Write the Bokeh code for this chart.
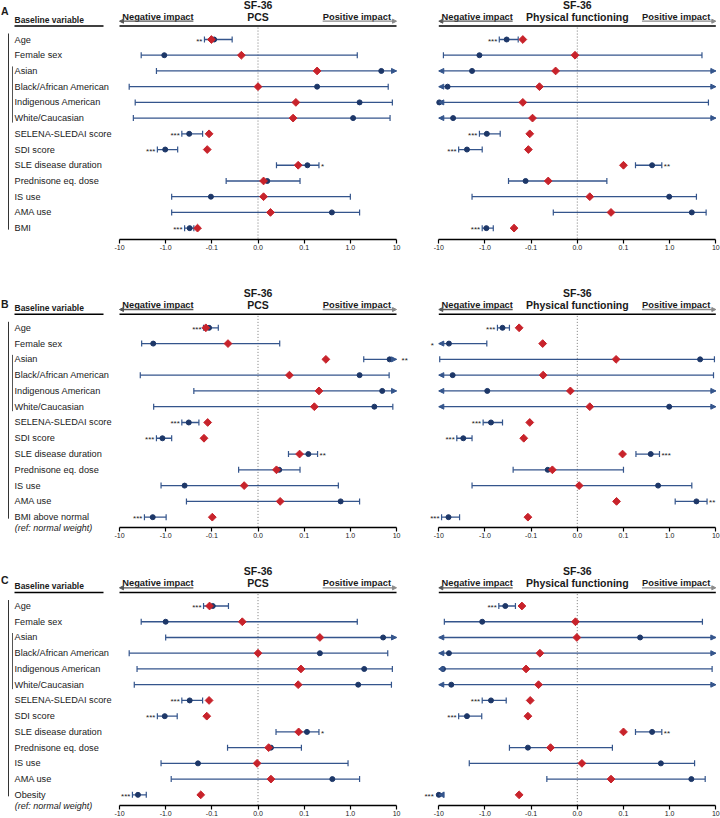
import numpy as np
from bokeh.plotting import figure
from bokeh.layouts import row, column
from bokeh.models import (ColumnDataSource, Range1d, FixedTicker, Arrow, NormalHead,
                          LabelSet, Label)
from bokeh.core.properties import value
from bokeh.embed import file_html
from bokeh.resources import INLINE

# ---------------- data (x in axis units: -3=-10, -2=-1.0, -1=-0.1, 0=0.0, 1=0.1, 2=1.0, 3=10;
#                  |value| > 3 means the CI runs off the axis -> arrow) ----------------
variables = ["Age", "Female sex", "Asian", "Black/African American", "Indigenous American",
             "White/Caucasian", "SELENA-SLEDAI score", "SDI score", "SLE disease duration",
             "Prednisone eq. dose", "IS use", "AMA use"]
weight_labels = ["BMI", "BMI above normal", "Obesity"]
weight_notes = ["", "(ref: normal weight)", "(ref: normal weight)"]
panel_letters = ["A", "B", "C"]
outcomes = ["PCS", "Physical functioning"]
tick_values = [-3, -2, -1, 0, 1, 2, 3]
tick_labels = ["-10", "-1.0", "-0.1", "0.0", "0.1", "1.0", "10"]

# Panel A
a_pcs_est = [-0.95, -2.03, 2.67, 1.28, 2.20, 2.06, -1.49, -2.01, 1.07, 0.20, -1.02, 1.60, -1.48]
a_pcs_lo = [-1.16, -2.53, -2.20, -2.79, -2.66, -2.70, -1.65, -2.18, 0.40, -0.69, -1.87, -1.87, -1.59]
a_pcs_hi = [-0.56, 2.15, 3.30, 2.82, 2.91, 2.86, -1.20, -1.74, 1.32, 0.91, 2.00, 2.20, -1.39]
a_pcs_adj = [-1.01, -0.36, 1.28, 0.00, 0.82, 0.76, -1.06, -1.10, 0.87, 0.12, 0.12, 0.27, -1.31]
a_pcs_sig = ["**", "", "", "", "", "", "***", "***", "*", "", "", "", "***"]

a_pf_est = [-1.53, -2.12, -2.28, -2.81, -2.99, -2.69, -1.96, -2.39, 1.62, -1.12, 1.99, 2.48, -1.97]
a_pf_lo = [-1.69, -2.90, -3.30, -3.30, -3.30, -3.30, -2.12, -2.57, 1.26, -1.49, -2.28, -0.52, -2.06]
a_pf_hi = [-1.28, 2.70, 3.30, 3.30, 2.84, 3.30, -1.67, -2.06, 1.83, 0.64, 2.58, 2.79, -1.82]
a_pf_adj = [-1.18, -0.05, -0.47, -0.82, -1.18, -0.97, -1.03, -1.06, 1.00, -0.63, 0.27, 0.73, -1.37]
a_pf_sig = ["***", "", "", "", "", "", "***", "***", "**", "", "", "", "***"]

# Panel B
b_pcs_est = [-1.06, -2.27, 2.85, 2.20, 2.69, 2.52, -1.50, -2.07, 1.09, 0.46, -1.59, 1.79, -2.28]
b_pcs_lo = [-1.18, -2.52, 2.29, -2.55, -1.39, -2.26, -1.65, -2.20, 0.66, -0.42, -2.10, -1.55, -2.46]
b_pcs_hi = [-0.86, 0.47, 3.30, 2.84, 3.30, 2.92, -1.28, -1.87, 1.29, 0.91, 1.74, 2.20, -1.99]
b_pcs_adj = [-1.13, -0.65, 1.47, 0.68, 1.32, 1.22, -1.09, -1.17, 0.90, 0.40, -0.30, 0.48, -0.99]
b_pcs_sig = ["***", "", "**", "", "", "", "***", "***", "**", "", "", "", "***"]

b_pf_est = [-1.62, -2.78, 2.66, -2.70, -1.95, 1.99, -1.87, -2.47, 1.59, -0.64, 1.75, 2.58, -2.79]
b_pf_lo = [-1.73, -3.30, -2.98, -3.30, -3.30, -3.30, -2.04, -2.61, 1.27, -1.39, -2.28, 2.12, -2.94]
b_pf_hi = [-1.47, -1.96, 2.97, 2.95, 3.30, 3.30, -1.62, -2.28, 1.78, 1.00, 2.48, 2.81, -2.55]
b_pf_adj = [-1.26, -0.75, 0.84, -0.74, -0.15, 0.27, -1.03, -1.16, 0.98, -0.54, 0.04, 0.85, -1.07]
b_pf_sig = ["***", "*", "", "", "", "", "***", "***", "***", "", "", "**", "***"]

# Panel C
c_pcs_est = [-0.98, -2.00, 2.71, 1.34, 2.30, 2.17, -1.48, -2.02, 1.06, 0.28, -1.30, 1.61, -2.60]
c_pcs_lo = [-1.18, -2.53, -2.00, -2.79, -2.62, -2.68, -1.65, -2.18, 0.39, -0.66, -2.10, -1.88, -2.72]
c_pcs_hi = [-0.64, 2.15, 3.30, 2.81, 2.91, 2.89, -1.20, -1.75, 1.32, 0.94, 1.95, 2.20, -2.42]
c_pcs_adj = [-1.05, -0.34, 1.34, 0.00, 0.93, 0.87, -1.06, -1.11, 0.88, 0.23, -0.02, 0.28, -1.24]
c_pcs_sig = ["***", "", "", "", "", "", "***", "***", "*", "", "", "", "***"]

c_pf_est = [-1.56, -2.06, 1.36, -2.78, -2.91, -2.73, -1.87, -2.39, 1.62, -1.07, 1.81, 2.47, -3.00]
c_pf_lo = [-1.70, -2.88, -3.30, -3.30, -3.30, -3.30, -2.06, -2.57, 1.26, -1.47, -2.34, -0.66, -3.30]
c_pf_hi = [-1.34, 2.71, 3.30, 3.30, 2.92, 3.30, -1.54, -2.07, 1.83, 0.76, 2.54, 2.77, -2.89]
c_pf_adj = [-1.20, -0.04, -0.01, -0.81, -1.11, -0.84, -1.02, -1.07, 1.00, -0.58, 0.10, 0.73, -1.26]
c_pf_sig = ["***", "", "", "", "", "", "***", "***", "**", "", "", "", "***"]

# ---------------- style / layout ----------------
FONT = "Liberation Sans"
TXT = "#1a1a1a"
CI_COLOR = "#34558c"
DOT_COLOR = "#1d3768"
RED = "#c8232b"
PANEL_H = [280, 279, 259]          # canvas heights of the three panel rows
ROW0 = [39.0, 47.3, 46.7]          # px from panel top to first row
ROW_S = [15.72, 15.78, 15.8]       # px per row
FRAME_H = [239, 247, 247]          # px from panel top to the x axis
BORDER_B = [41, 32, 12]
LETTER_DY = [-29, -24, -26.4]
LAB_W = 114
FIG_W = 303
UNIT = 46.17                       # px per axis unit
AXIS_START = [119 - 114, 438.3 - 417]   # px from canvas left to the -10 tick (PCS, PF)
NOTE_CENTER = 53
X_MIN, X_MAX = tick_values[0], tick_values[-1]


def y_range(k):
    s = ROW_S[k]
    return Range1d((FRAME_H[k] - ROW0[k]) / s, -ROW0[k] / s)


def style_axis(p):
    ax = p.xaxis[0]
    ax.ticker = FixedTicker(ticks=tick_values)
    ax.major_label_overrides = dict(zip(tick_values, tick_labels))
    ax.bounds = (X_MIN, X_MAX)
    ax.axis_line_width = 1.5
    ax.axis_line_color = "black"
    ax.major_tick_out = 4
    ax.major_tick_in = 0
    ax.minor_tick_out = 0
    ax.minor_tick_in = 0
    ax.major_tick_line_width = 1.2
    ax.major_tick_line_color = "black"
    ax.major_label_standoff = 1
    ax.major_label_text_font = FONT
    ax.major_label_text_font_size = "7px"
    ax.major_label_text_color = TXT


def base_fig(width, h, bb, xr, yr, xaxis):
    p = figure(width=width, height=h, x_range=xr, y_range=yr, title=None,
               output_backend="svg", toolbar_location=None, tools="", y_axis_location=None,
               x_axis_location="below" if xaxis else None,
               min_border_left=0, min_border_right=0, min_border_top=0, min_border_bottom=bb)
    p.outline_line_color = None
    p.xgrid.visible = False
    p.ygrid.visible = False
    p.background_fill_color = "white"
    p.border_fill_color = "white"
    return p


def label_fig(k):
    s = ROW_S[k]
    note = weight_notes[k]
    p = base_fig(LAB_W, PANEL_H[k], BORDER_B[k], Range1d(0, LAB_W), y_range(k), bool(note))
    labels = variables + [weight_labels[k]]
    n = len(labels)
    src = ColumnDataSource(dict(x=np.full(n, 14.0), y=np.arange(n, dtype=float), t=labels))
    p.text(x="x", y="y", text="t", source=src, text_font=value(FONT),
           text_font_size="9.2px", text_color=TXT, text_baseline="middle", text_align="left")
    if note:
        # the reference-category note sits level with the x axis, below the frame
        ax = p.xaxis[0]
        ax.ticker = FixedTicker(ticks=[NOTE_CENTER])
        ax.major_label_overrides = {NOTE_CENTER: note}
        ax.axis_line_alpha = 0
        ax.major_tick_line_alpha = 0
        ax.major_tick_out = 0
        ax.major_tick_in = 0
        ax.minor_tick_out = 0
        ax.minor_tick_in = 0
        ax.major_label_standoff = -5
        ax.major_label_text_font = FONT
        ax.major_label_text_font_style = "italic"
        ax.major_label_text_font_size = "9px"
        ax.major_label_text_color = TXT
    p.add_layout(Label(x=0.5, y=LETTER_DY[k] / s, text=panel_letters[k], text_font=FONT,
                       text_font_style="bold", text_font_size="10.5px", text_color=TXT,
                       text_baseline="middle", text_align="left"))
    p.add_layout(Label(x=14, y=-20 / s, text="Baseline variable", text_font=FONT,
                       text_font_style="bold", text_font_size="8.5px", text_color=TXT,
                       text_baseline="middle", text_align="left"))
    p.segment(x0=[14], y0=[-13.5 / s], x1=[103], y1=[-13.5 / s], line_color="black", line_width=1.5)
    p.segment(x0=[8], y0=[-6 / s], x1=[8], y1=[n - 1 + 1.5 / s], line_color="#333333", line_width=1)
    r0, r1 = variables.index("Asian"), variables.index("White/Caucasian")
    p.segment(x0=[12], y0=[r0 - 4.5 / s], x1=[12], y1=[r1 + 4.5 / s], line_color="#555555", line_width=1)
    return p


def forest_fig(k, side, est, lo, hi, adj, sig):
    s = ROW_S[k]
    x0 = X_MIN - AXIS_START[side] / UNIT
    xr = Range1d(x0, x0 + FIG_W / UNIT)
    yr = y_range(k)
    y_bot = yr.start
    p = base_fig(FIG_W, PANEL_H[k], BORDER_B[k], xr, yr, True)
    style_axis(p)

    est = np.asarray(est, float)
    lo = np.asarray(lo, float)
    hi = np.asarray(hi, float)
    adj = np.asarray(adj, float)
    sig = np.asarray(sig)
    n = len(est)
    yy = np.arange(n, dtype=float)

    # header
    top_y = -13.5 / s
    p.add_layout(Label(x=0, y=-35 / s, text="SF-36", text_align="center", text_baseline="middle",
                       text_font=FONT, text_font_style="bold", text_font_size="10.5px", text_color=TXT))
    p.add_layout(Label(x=0, y=-22.7 / s, text=outcomes[side], text_align="center",
                       text_baseline="middle", text_font=FONT, text_font_style="bold",
                       text_font_size="10.5px", text_color=TXT))
    p.add_layout(Label(x=X_MIN + 0.06, y=-23 / s, text="Negative impact", text_align="left",
                       text_baseline="middle", text_font=FONT, text_font_style="bold",
                       text_font_size="9.3px", text_color=TXT))
    p.add_layout(Label(x=X_MAX - 0.12, y=-23 / s, text="Positive impact", text_align="right",
                       text_baseline="middle", text_font=FONT, text_font_style="bold",
                       text_font_size="9.3px", text_color=TXT))
    for xs, xe, col in ((-1.4, X_MIN, "#555555"), (1.4, X_MAX, "#8a8a8a")):
        p.add_layout(Arrow(end=NormalHead(size=4, fill_color=col, line_color=col, line_width=1),
                           x_start=xs, y_start=-18.3 / s, x_end=xe, y_end=-18.3 / s,
                           line_color=col, line_width=1.3))
    p.segment(x0=[X_MIN], y0=[top_y], x1=[X_MAX], y1=[top_y], line_color="black", line_width=1.5)
    p.segment(x0=[0], y0=[top_y + 0.1], x1=[0], y1=[y_bot], line_color="#7a7a7a",
              line_dash="1 2", line_width=1)

    # confidence intervals
    lo_c = np.clip(lo, X_MIN, X_MAX)
    hi_c = np.clip(hi, X_MIN, X_MAX)
    ci = ColumnDataSource(dict(y=yy, lo=lo_c, hi=hi_c))
    p.segment(x0="lo", y0="y", x1="hi", y1="y", source=ci, line_color=CI_COLOR, line_width=1.3)
    capx = np.concatenate([lo[lo > X_MIN], hi[hi < X_MAX]])
    capy = np.concatenate([yy[lo > X_MIN], yy[hi < X_MAX]])
    p.scatter(capx, capy, marker="dash", angle=np.pi / 2, size=6, line_color=CI_COLOR, line_width=1.2)
    for mask, x_end in ((hi > X_MAX, X_MAX), (lo < X_MIN, X_MIN)):
        if mask.any():
            m = int(mask.sum())
            src = ColumnDataSource(dict(x0=[x_end * 0.97] * m, x1=[x_end] * m, y=yy[mask]))
            p.add_layout(Arrow(end=NormalHead(size=5, fill_color=CI_COLOR, line_color=CI_COLOR,
                                              line_width=1),
                               x_start="x0", y_start="y", x_end="x1", y_end="y", source=src,
                               line_color=CI_COLOR, line_width=1.3))

    # estimates
    p.scatter(est, yy, marker="circle", size=5, fill_color=DOT_COLOR, line_color=DOT_COLOR)
    p.scatter(adj, yy, marker="square", angle=np.pi / 4, size=5.5, fill_color=RED, line_color=RED)

    # significance stars
    has = sig != ""
    for mask, xs, align, sign, clipped in ((has & (est < 0), lo_c, "right", -1, lo < X_MIN),
                                          (has & (est >= 0), hi_c, "left", 1, hi > X_MAX)):
        if mask.any():
            xo = sign * (2 + 3 * clipped[mask].astype(float))
            src = ColumnDataSource(dict(x=xs[mask], y=yy[mask], t=sig[mask], xo=xo))
            p.add_layout(LabelSet(x="x", y="y", text="t", source=src, x_offset="xo", y_offset=-1.5,
                                  text_align=align, text_baseline="middle", text_font=value(FONT),
                                  text_font_size="8px", text_color=TXT))
    return p


panels = [
    ((a_pcs_est, a_pcs_lo, a_pcs_hi, a_pcs_adj, a_pcs_sig),
     (a_pf_est, a_pf_lo, a_pf_hi, a_pf_adj, a_pf_sig)),
    ((b_pcs_est, b_pcs_lo, b_pcs_hi, b_pcs_adj, b_pcs_sig),
     (b_pf_est, b_pf_lo, b_pf_hi, b_pf_adj, b_pf_sig)),
    ((c_pcs_est, c_pcs_lo, c_pcs_hi, c_pcs_adj, c_pcs_sig),
     (c_pf_est, c_pf_lo, c_pf_hi, c_pf_adj, c_pf_sig)),
]

rows = []
for k, (pcs, pf) in enumerate(panels):
    rows.append(row(label_fig(k), forest_fig(k, 0, *pcs), forest_fig(k, 1, *pf)))

p = column(*rows)

open("out.html", "w").write(file_html(p, INLINE))
